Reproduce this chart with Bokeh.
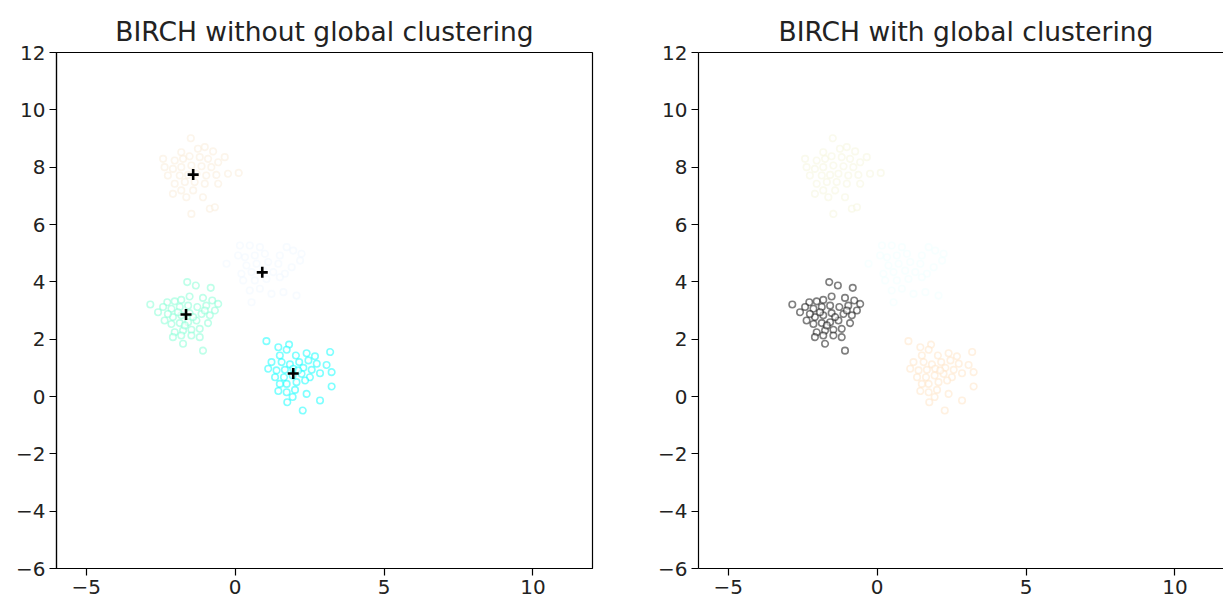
from bokeh.plotting import figure
from bokeh.layouts import row
from bokeh.models import LinearAxis, FixedTicker, Range1d
from bokeh.embed import file_html
from bokeh.resources import INLINE

# ---------------- data ----------------
top_x = [-1.49, -1.81, -1.25, -1.02, -0.74, -0.35, -2.42, -2.03, -1.75, -1.53,
         -1.19, -0.91, -0.57, -2.37, -2.09, -1.81, -1.47, -1.13, -0.80, -0.24,
         0.12, -2.26, -1.86, -1.58, -1.30, -0.97, -0.63, -2.03, -1.69, -1.36,
         -1.02, -0.57, -2.09, -1.81, -1.41, -1.08, -0.85, -0.68, -1.47, -1.64]
top_y = [9.01, 8.52, 8.64, 8.70, 8.55, 8.35, 8.29, 8.23, 8.29, 8.38,
         8.35, 8.29, 8.17, 8.00, 7.94, 8.00, 8.06, 8.03, 8.00, 7.77,
         7.80, 7.71, 7.71, 7.73, 7.77, 7.71, 7.73, 7.42, 7.48, 7.48,
         7.42, 7.42, 7.07, 7.19, 7.19, 6.95, 6.55, 6.60, 6.37, 6.95]

mid_x = [0.16, 0.49, 0.83, 1.73, 1.95, -0.29, 0.33, 0.66, 1.00, 1.50,
         2.18, 0.38, 0.72, 1.11, 1.45, 1.90, 0.21, 0.55, 0.94, 1.28,
         1.67, 0.27, 0.66, 1.05, 1.50, 0.49, 0.83, 1.22, 1.62, 2.06,
         0.55, 0.10, 2.23]
mid_y = [5.27, 5.27, 5.21, 5.21, 5.09, 4.63, 4.86, 4.92, 4.98, 4.92,
         4.74, 4.57, 4.63, 4.69, 4.63, 4.51, 4.28, 4.34, 4.39, 4.34,
         4.28, 4.05, 4.05, 4.10, 4.16, 3.70, 3.76, 3.58, 3.64, 3.52,
         3.29, 4.92, 4.98]

low_x = [-1.61, -1.32, -0.82, -2.85, -2.28, -2.03, -1.81, -1.53, -1.08, -0.77,
         -0.57, -2.42, -2.59, -2.14, -1.86, -1.58, -1.27, -0.97, -0.68, -2.37,
         -2.09, -1.81, -1.53, -1.13, -0.85, -2.14, -1.86, -1.58, -1.30, -0.91,
         -2.03, -1.75, -1.47, -1.19, -2.09, -1.81, -1.47, -1.19, -1.75, -1.08,
         -1.92, -1.41, -1.69, -2.26, -1.02]
low_y = [3.99, 3.87, 3.79, 3.21, 3.29, 3.32, 3.37, 3.49, 3.44, 3.35,
         3.23, 3.12, 2.94, 3.06, 3.12, 3.17, 3.12, 3.17, 3.00, 2.65,
         2.77, 2.83, 2.91, 2.88, 2.83, 2.53, 2.56, 2.59, 2.65, 2.56,
         2.24, 2.30, 2.33, 2.36, 2.07, 2.13, 2.13, 2.07, 1.84, 1.60,
         2.94, 2.77, 2.48, 2.88, 3.00]

br_x = [1.05, 1.45, 1.81, 1.73, 3.19, 1.50, 2.04, 2.40, 2.68, 1.22,
        1.56, 1.84, 2.15, 2.46, 2.74, 3.07, 1.11, 1.39, 1.67, 1.95,
        2.29, 2.57, 3.24, 1.34, 1.64, 1.93, 2.23, 2.51, 2.85, 1.73,
        2.06, 2.35, 1.45, 1.73, 2.01, 3.24, 2.40, 1.93, 1.75, 2.85,
        2.27, 2.12, 1.50]
br_y = [1.93, 1.72, 1.81, 1.63, 1.55, 1.43, 1.43, 1.51, 1.40, 1.20,
        1.20, 1.12, 1.20, 1.26, 1.14, 1.10, 0.97, 0.91, 0.93, 0.97,
        1.00, 0.93, 0.85, 0.67, 0.67, 0.73, 0.79, 0.67, 0.81, 0.44,
        0.50, 0.56, 0.19, 0.15, 0.23, 0.35, 0.09, -0.02, -0.20, -0.14,
        -0.49, 0.91, 0.44]

# subcluster centroids (left panel), same order as the groups above
cent_x = [-1.41, 0.91, -1.65, 1.95]
cent_y = [7.74, 4.33, 2.86, 0.80]

groups_x = [top_x, mid_x, low_x, br_x]
groups_y = [top_y, mid_y, low_y, br_y]
colors_left = ["antiquewhite", "aliceblue", "aquamarine", "aqua"]
colors_right = ["beige", "azure", "black", "bisque"]

x_ticks = [-5, 0, 5, 10]
y_ticks = [-6, -4, -2, 0, 2, 4, 6, 8, 10, 12]
titles = ["BIRCH without global clustering", "BIRCH with global clustering"]

FONT = "DejaVu Sans"
FRAME_W = 536
FRAME_H = 516


def tick_labels(ticks):
    return {t: (str(t).replace("-", "\u2212")) for t in ticks}


def style_axis(ax, ticks):
    ax.ticker = FixedTicker(ticks=ticks)
    ax.major_label_overrides = tick_labels(ticks)
    ax.axis_line_color = "black"
    ax.axis_line_width = 1.2
    ax.major_tick_line_color = "black"
    ax.major_tick_line_width = 1.2
    ax.major_tick_out = 7
    ax.major_tick_in = 0
    ax.minor_tick_out = 0
    ax.minor_tick_in = 0
    ax.major_label_standoff = 4
    ax.major_label_text_font = FONT
    ax.major_label_text_font_size = "20px"
    ax.major_label_text_color = "#222222"


def make_fig(title, x_end, frame_w, border_left, border_right, outline):
    p = figure(frame_width=frame_w, frame_height=FRAME_H,
               x_range=Range1d(-6, x_end), y_range=Range1d(-6, 12),
               output_backend="svg", toolbar_location=None,
               min_border_left=border_left, min_border_right=border_right,
               min_border_top=52, min_border_bottom=34,
               title=title)
    p.title.text_font = FONT
    p.title.text_font_size = "26.5px"
    p.title.text_font_style = "normal"
    p.title.text_color = "#222222"
    p.title.align = "center"
    p.title.standoff = 12
    p.xgrid.visible = False
    p.ygrid.visible = False
    style_axis(p.xaxis[0], x_ticks)
    style_axis(p.yaxis[0], y_ticks)
    p.outline_line_color = "black" if outline else None
    p.outline_line_width = 1.2
    p.background_fill_color = "white"
    p.border_fill_color = "white"
    return p


# left panel
p1 = make_fig(titles[0], 12, FRAME_W, 56, 58, True)
for gx, gy, col in zip(groups_x, groups_y, colors_left):
    p1.scatter(gx, gy, marker="circle", size=6.5, line_width=1.6,
               line_color=col, line_alpha=0.5,
               fill_color="white", fill_alpha=0.5)
for cx, cy in zip(cent_x, cent_y):
    p1.scatter([cx], [cy], marker="cross", size=11, line_width=2.6,
               line_color="black")

# right panel (its right edge is cut off in the reference)
right_w = 525
x_end_right = -6 + right_w / (FRAME_W / 18.0)
p2 = make_fig(titles[1], x_end_right, right_w, 48, 0, False)
p2.title.align = "left"
p2.title.offset = 80
top_axis = LinearAxis(ticker=FixedTicker(ticks=[]), axis_line_color="black",
                      axis_line_width=1.2, major_tick_out=0, major_tick_in=0,
                      minor_tick_out=0, minor_tick_in=0,
                      major_label_text_font_size="0px")
p2.add_layout(top_axis, "above")
for gx, gy, col in zip(groups_x, groups_y, colors_right):
    p2.scatter(gx, gy, marker="circle", size=6.5, line_width=1.6,
               line_color=col, line_alpha=0.5,
               fill_color="white", fill_alpha=0.5)

layout = row(p1, p2)
open("out.html", "w").write(file_html(layout, INLINE))
